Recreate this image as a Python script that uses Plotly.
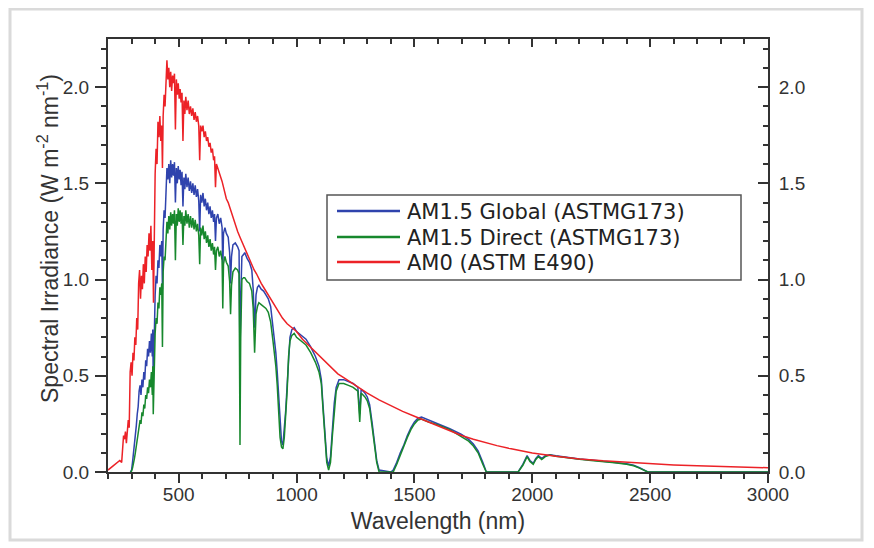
import plotly.graph_objects as go

# ---------------- data ----------------
am0_wl = [200, 210, 220, 230, 240, 250, 258, 262, 266, 270, 274, 278, 282, 286, 290, 294, 298, 302, 306, 310,
          314, 318, 322, 326, 330, 334, 338, 342, 346, 350, 354, 358, 362, 366, 370, 374, 378, 382, 386, 390,
          393, 396, 400, 404, 408, 412, 416, 420, 424, 428, 431, 434, 438, 442, 446, 450, 454, 458, 462, 466,
          470, 474, 478, 482, 486, 490, 494, 498, 502, 506, 510, 514, 518, 522, 526, 530, 535, 540, 545, 550,
          555, 560, 565, 570, 575, 580, 585, 589, 593, 598, 603, 608, 613, 618, 623, 628, 633, 638, 643, 648,
          652, 656, 660, 666, 672, 678, 684, 690, 696, 702, 710, 720, 730, 740, 750, 760, 770, 780, 790, 800,
          810, 820, 830, 840, 850, 860, 870, 880, 890, 900, 920, 940, 960, 980, 1000, 1025, 1050, 1075, 1100,
          1125, 1150, 1175, 1200, 1225, 1250, 1275, 1300, 1350, 1400, 1450, 1500, 1550, 1600, 1650, 1700, 1750,
          1800, 1850, 1900, 1950, 2000, 2100, 2200, 2300, 2400, 2500, 2600, 2700, 2800, 2900, 3000]
am0_val = [0.01, 0.02, 0.03, 0.04, 0.05, 0.06, 0.05, 0.12, 0.19, 0.17, 0.21, 0.15, 0.24, 0.27, 0.23, 0.52, 0.57, 0.50, 0.62, 0.58,
           0.70, 0.66, 0.80, 0.74, 0.98, 1.05, 0.90, 1.02, 0.95, 1.08, 0.98, 1.12, 1.04, 1.18, 1.12, 1.24, 1.15, 1.28, 1.05, 1.20,
           0.88, 1.30, 1.55, 1.68, 1.60, 1.82, 1.74, 1.85, 1.72, 1.80, 1.58, 1.85, 1.96, 1.90, 2.05, 2.14, 2.04, 2.10, 2.00, 2.08,
           1.98, 2.06, 2.02, 2.07, 1.78, 2.04, 1.96, 2.02, 1.94, 1.99, 1.92, 1.97, 1.72, 1.93, 1.86, 1.95, 1.88, 1.93, 1.86, 1.90,
           1.85, 1.89, 1.83, 1.87, 1.82, 1.85, 1.80, 1.62, 1.80, 1.77, 1.80, 1.74, 1.77, 1.72, 1.74, 1.69, 1.71, 1.66, 1.68, 1.62,
           1.64, 1.48, 1.60, 1.58, 1.55, 1.53, 1.51, 1.48, 1.45, 1.42, 1.40, 1.36, 1.32, 1.28, 1.25, 1.22, 1.19, 1.16, 1.13, 1.11,
           1.08, 1.05, 1.03, 1.00, 0.98, 0.96, 0.94, 0.92, 0.90, 0.88, 0.84, 0.80, 0.77, 0.75, 0.73, 0.69, 0.66, 0.63, 0.60,
           0.57, 0.54, 0.51, 0.49, 0.47, 0.45, 0.43, 0.41, 0.375, 0.345, 0.315, 0.29, 0.265, 0.24, 0.215, 0.19, 0.17,
           0.152, 0.137, 0.123, 0.11, 0.099, 0.082, 0.068, 0.058, 0.05, 0.043, 0.037, 0.032, 0.028, 0.025, 0.022]

glob_wl = [295, 300, 304, 308, 312, 316, 320, 324, 328, 332, 336, 340, 344, 348, 352, 356, 360, 364, 368, 372,
           376, 380, 384, 388, 390, 392, 396, 400, 404, 408, 412, 416, 420, 424, 428, 431, 434, 438, 442, 446,
           450, 454, 458, 462, 466, 470, 474, 478, 482, 486, 490, 494, 498, 502, 506, 510, 514, 518, 522, 526,
           530, 535, 540, 545, 550, 555, 560, 565, 570, 575, 580, 585, 589, 593, 598, 603, 608, 613, 618, 623,
           628, 633, 638, 643, 648, 652, 656, 660, 666, 672, 678, 684, 687, 690, 696, 702, 710, 716, 720, 724,
           730, 740, 750, 756, 760, 763, 768, 775, 780, 790, 800, 810, 816, 822, 828, 834, 840, 850, 860, 870,
           880, 890, 900, 906, 912, 918, 924, 930, 936, 942, 948, 954, 960, 966, 972, 980, 990, 1000, 1020, 1040,
           1060, 1080, 1095, 1105, 1112, 1120, 1128, 1136, 1144, 1152, 1160, 1168, 1180, 1200, 1220, 1240, 1260,
           1268, 1274, 1290, 1300, 1310, 1320, 1330, 1340, 1350, 1400, 1410, 1425, 1440, 1455, 1470, 1485, 1500,
           1515, 1530, 1560, 1600, 1650, 1700, 1730, 1750, 1770, 1790, 1805, 1940, 1960, 1978, 1990, 2004, 2015,
           2026, 2040, 2055, 2075, 2100, 2150, 2200, 2250, 2300, 2350, 2400, 2430, 2455, 2475, 2490, 3000]
glob_val = [0.00, 0.01, 0.05, 0.09, 0.14, 0.19, 0.24, 0.30, 0.34, 0.42, 0.45, 0.40, 0.48, 0.44, 0.52, 0.48, 0.58, 0.55, 0.64, 0.60,
            0.68, 0.62, 0.72, 0.60, 0.74, 0.45, 0.80, 0.92, 1.02, 0.98, 1.10, 1.06, 1.18, 1.12, 1.20, 0.95, 1.26, 1.36, 1.32, 1.45,
            1.58, 1.52, 1.60, 1.50, 1.62, 1.53, 1.60, 1.54, 1.61, 1.40, 1.58, 1.50, 1.59, 1.52, 1.57, 1.49, 1.56, 1.38, 1.53, 1.47,
            1.55, 1.48, 1.53, 1.46, 1.51, 1.45, 1.50, 1.44, 1.49, 1.43, 1.47, 1.41, 1.25, 1.44, 1.40, 1.45, 1.38, 1.42, 1.36, 1.40,
            1.34, 1.38, 1.32, 1.36, 1.30, 1.34, 1.20, 1.32, 1.34, 1.29, 1.32, 1.27, 1.05, 1.24, 1.27, 1.24, 1.22, 1.14, 0.98, 1.12,
            1.18, 1.19, 1.17, 1.15, 0.55, 0.90, 1.12, 1.13, 1.14, 1.11, 1.09, 1.05, 0.95, 0.75, 0.92, 0.96, 0.97, 0.95, 0.94, 0.92,
            0.90, 0.86, 0.76, 0.70, 0.62, 0.52, 0.40, 0.25, 0.16, 0.14, 0.22, 0.32, 0.45, 0.62, 0.70, 0.74, 0.75, 0.73, 0.71, 0.69,
            0.65, 0.60, 0.55, 0.48, 0.35, 0.20, 0.07, 0.03, 0.08, 0.22, 0.36, 0.44, 0.48, 0.48, 0.47, 0.46, 0.44,
            0.30, 0.43, 0.41, 0.39, 0.35, 0.26, 0.16, 0.06, 0.01, 0.00, 0.01, 0.05, 0.10, 0.14, 0.19, 0.23, 0.26,
            0.28, 0.285, 0.27, 0.25, 0.225, 0.195, 0.17, 0.145, 0.11, 0.05, 0.00, 0.00, 0.04, 0.085, 0.06, 0.045, 0.07,
            0.085, 0.07, 0.085, 0.09, 0.085, 0.075, 0.068, 0.062, 0.057, 0.05, 0.043, 0.035, 0.022, 0.01, 0.00, 0.00]

dir_wl = glob_wl
dir_val = [0.00, 0.005, 0.02, 0.04, 0.07, 0.10, 0.13, 0.16, 0.20, 0.24, 0.27, 0.25, 0.31, 0.29, 0.35, 0.33, 0.40, 0.38, 0.44, 0.41,
           0.48, 0.44, 0.52, 0.40, 0.55, 0.30, 0.60, 0.72, 0.80, 0.77, 0.88, 0.85, 0.96, 0.92, 0.98, 0.65, 1.04, 1.12, 1.10, 1.20,
           1.30, 1.24, 1.33, 1.26, 1.35, 1.28, 1.34, 1.29, 1.36, 1.10, 1.34, 1.28, 1.37, 1.30, 1.36, 1.29, 1.35, 1.18, 1.33, 1.28,
           1.36, 1.29, 1.34, 1.27, 1.33, 1.27, 1.32, 1.26, 1.31, 1.25, 1.29, 1.23, 1.08, 1.27, 1.23, 1.28, 1.21, 1.25, 1.19, 1.23,
           1.17, 1.21, 1.15, 1.19, 1.13, 1.17, 1.05, 1.15, 1.17, 1.12, 1.15, 1.10, 0.85, 1.08, 1.12, 1.09, 1.07, 0.99, 0.82, 0.97,
           1.04, 1.06, 1.05, 1.03, 0.14, 0.70, 1.00, 1.01, 1.01, 0.99, 0.98, 0.94, 0.85, 0.62, 0.82, 0.86, 0.88, 0.87, 0.86, 0.85,
           0.83, 0.78, 0.68, 0.62, 0.55, 0.45, 0.33, 0.18, 0.13, 0.12, 0.18, 0.28, 0.42, 0.60, 0.68, 0.71, 0.72, 0.70, 0.68, 0.66,
           0.62, 0.57, 0.52, 0.46, 0.33, 0.18, 0.05, 0.01, 0.05, 0.19, 0.33, 0.42, 0.46, 0.46, 0.45, 0.44, 0.42,
           0.26, 0.41, 0.39, 0.37, 0.33, 0.24, 0.14, 0.05, 0.00, 0.00, 0.00, 0.04, 0.09, 0.13, 0.18, 0.22, 0.25,
           0.27, 0.275, 0.26, 0.245, 0.22, 0.185, 0.16, 0.135, 0.10, 0.04, 0.00, 0.00, 0.035, 0.08, 0.055, 0.04, 0.065,
           0.08, 0.065, 0.08, 0.088, 0.082, 0.073, 0.066, 0.06, 0.055, 0.048, 0.04, 0.032, 0.02, 0.008, 0.00, 0.00]

series_names = ["AM1.5 Global (ASTMG173)", "AM1.5 Direct (ASTMG173)", "AM0 (ASTM E490)"]
series_colors = ["#2f43ad", "#17882d", "#ec2227"]

x_range = [200, 3000]
y_range = [0, 2.25]

# ---------------- figure ----------------
W, H = 874, 548
OFF = 8  # page body margin
ML, MR, MT, MB = 100, 114, 31, 84
PW, PH = W - ML - MR, H - MT - MB


def px(x):  # screen x -> paper
    return (x - OFF - ML) / PW


def py(y):  # screen y -> paper
    return (H - MB - (y - OFF)) / PH


fig = go.Figure()
for wl, val, name, col in zip([glob_wl, dir_wl, am0_wl], [glob_val, dir_val, am0_val],
                              series_names, series_colors):
    fig.add_trace(go.Scatter(x=wl, y=val, mode="lines", name=name,
                             line=dict(color=col, width=1.5), showlegend=False))

# invisible trace so the mirrored axes are drawn
fig.add_trace(go.Scatter(x=[None], y=[None], xaxis="x2", yaxis="y2",
                         showlegend=False, hoverinfo="skip"))

axis_col = "#333333"
tick_font = dict(family="Liberation Sans, Arial, sans-serif", size=19, color="#333333")
title_font = dict(family="Liberation Sans, Arial, sans-serif", size=23, color="#333333")

fig.update_layout(
    width=W, height=H,
    margin=dict(l=ML, r=MR, t=MT, b=MB),
    paper_bgcolor="white", plot_bgcolor="white",
    xaxis=dict(range=x_range, tick0=0, dtick=500, ticks="outside", ticklen=9, tickwidth=1.5,
               tickcolor=axis_col, showline=True, linewidth=2, linecolor=axis_col,
               showgrid=False, zeroline=False, tickfont=tick_font, ticklabelstandoff=-5,
               minor=dict(dtick=100, ticks="outside", ticklen=5, tickwidth=1.5, tickcolor=axis_col, showgrid=False),
               title=dict(text="Wavelength (nm)", font=title_font, standoff=9)),
    yaxis=dict(range=y_range, tick0=0, dtick=0.5, tickformat=".1f", ticks="outside", ticklen=11,
               tickwidth=1.5, tickcolor=axis_col, showline=True, linewidth=2, linecolor=axis_col,
               showgrid=False, zeroline=False, tickfont=tick_font, ticklabelstandoff=2,
               minor=dict(dtick=0.1, ticks="outside", ticklen=5, tickwidth=1.5, tickcolor=axis_col, showgrid=False)),
    xaxis2=dict(range=x_range, overlaying="x", side="top", anchor="y2", tick0=0, dtick=500,
                ticks="inside", ticklen=8, tickwidth=1.5, tickcolor=axis_col, showticklabels=False,
                showline=True, linewidth=2, linecolor=axis_col, showgrid=False, zeroline=False,
                minor=dict(dtick=100, ticks="inside", ticklen=5, tickwidth=1.5, tickcolor=axis_col, showgrid=False)),
    yaxis2=dict(range=y_range, overlaying="y", side="right", anchor="x2", tick0=0, dtick=0.5,
                tickformat=".1f", ticks="inside", ticklen=10, tickwidth=1.5, tickcolor=axis_col,
                showline=True, linewidth=2, linecolor=axis_col, showgrid=False, zeroline=False,
                tickfont=tick_font, ticklabelstandoff=5,
                minor=dict(dtick=0.1, ticks="inside", ticklen=5, tickwidth=1.5, tickcolor=axis_col, showgrid=False)),
)

# outer frame and legend box drawn with shapes and annotations
shapes = [
    dict(type="rect", xref="paper", yref="paper", x0=px(10), x1=px(862), y0=py(540), y1=py(9),
         line=dict(color="#dadada", width=3), fillcolor="rgba(0,0,0,0)", layer="below"),
    dict(type="rect", xref="paper", yref="paper", x0=px(327), x1=px(741), y0=py(280), y1=py(195),
         line=dict(color="#555555", width=1.5), fillcolor="white", layer="above"),
]
line_rows = [211, 237, 262]
text_rows = [212, 238, 263]
annotations = [
    dict(xref="paper", yref="paper", x=px(48), y=py(239), xanchor="center", yanchor="middle",
         text="Spectral Irradiance (W m<sup>-2</sup> nm<sup>-1</sup>)", textangle=-90, showarrow=False,
         font=title_font),
]
for name, col, ly, ty in zip(series_names, series_colors, line_rows, text_rows):
    shapes.append(dict(type="line", xref="paper", yref="paper", x0=px(337), x1=px(400), y0=py(ly), y1=py(ly),
                       line=dict(color=col, width=2.5), layer="above"))
    annotations.append(dict(xref="paper", yref="paper", x=px(405), y=py(ty), xanchor="left", yanchor="middle",
                            text=name, showarrow=False,
                            font=dict(family="DejaVu Sans, sans-serif", size=21, color="#222222")))
fig.update_layout(shapes=shapes, annotations=annotations)

fig.write_html("out.html")
